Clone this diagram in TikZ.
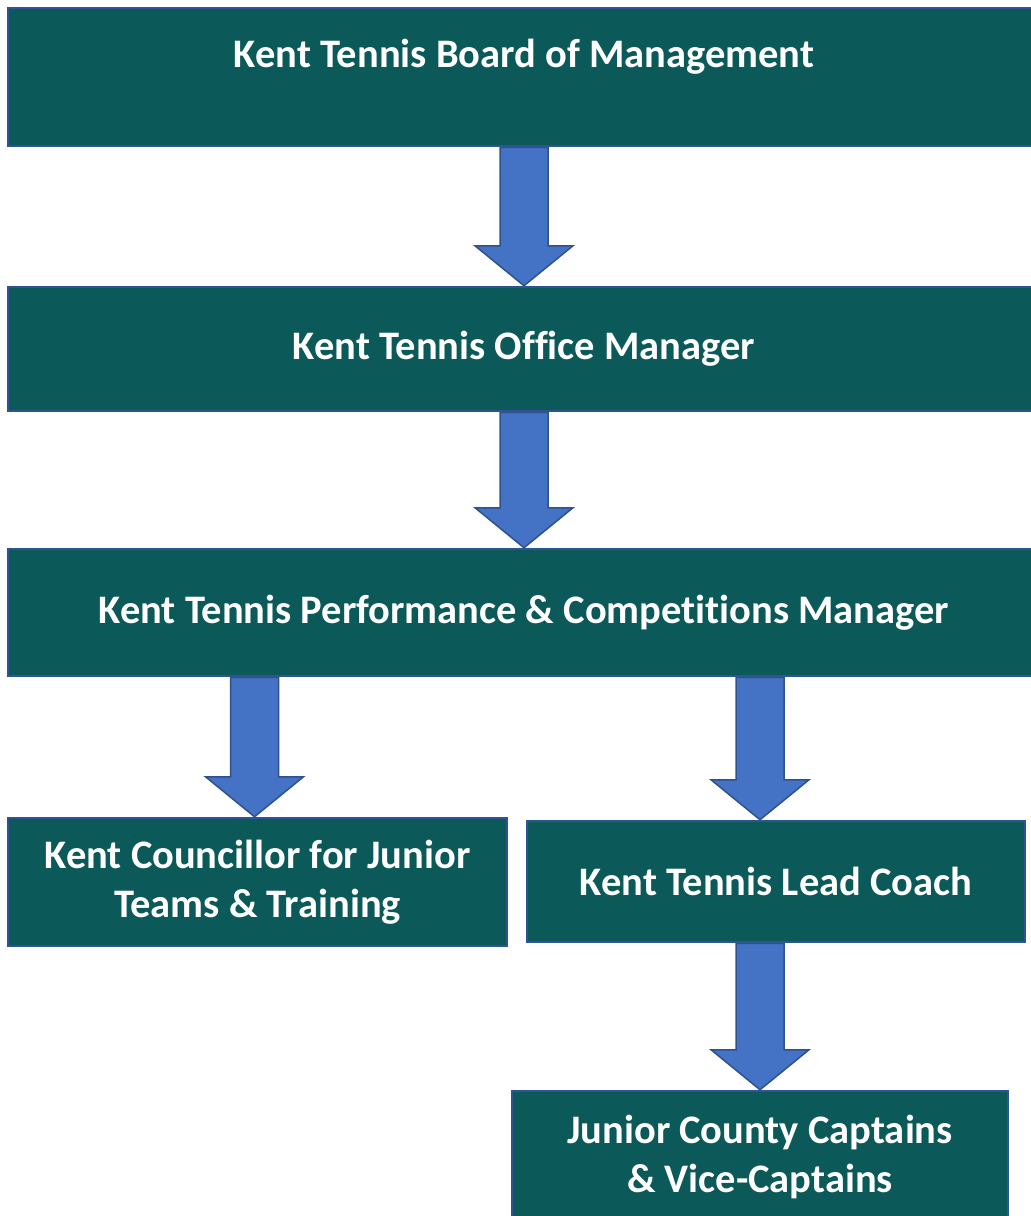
\documentclass[tikz,border=0pt]{standalone}
\usepackage{fontspec}
\setmainfont{Carlito}[Ligatures=NoCommon]
\usetikzlibrary{calc}

\definecolor{boxteal}{RGB}{11,89,88}
\definecolor{boxedge}{RGB}{47,84,150}
\definecolor{arrowblue}{RGB}{68,114,196}
\definecolor{arrowedge}{RGB}{47,82,143}

\tikzset{
    box/.style={rectangle,draw=boxedge,line width=2.5pt,fill=boxteal,text=white,
        font=\fontsize{40.5}{49}\selectfont\bfseries,align=center,inner sep=0pt},
    arr/.style={draw=arrowedge,line width=1.5pt,fill=arrowblue,line join=miter},
}

% block arrow: shaft from #1 down to the tip at #2
\newcommand{\blockarr}[2]{%
    \draw[arr] let \p1=(#1), \p2=(#2) in
        (\x2-24pt,\y1) -- (\x2+24pt,\y1) -- (\x2+24pt,\y2+40pt) -- (\x2+49pt,\y2+40pt)
        -- (\x2,\y2) -- (\x2-49pt,\y2+40pt) -- (\x2-24pt,\y2+40pt) -- cycle;}

\begin{document}
\begin{tikzpicture}[x=1pt,y=-1pt]
    \useasboundingbox (0,0) rectangle (1031,1216);
    \clip (0,0) rectangle (1031,1216);
    \fill[white] (0,0) rectangle (1031,1216);

    \node[box,minimum width=1032pt,text height=59pt,text depth=79pt] at (524,77) (board) {Kent Tennis Board of Management};
    \node[box,minimum width=1032pt,minimum height=124pt] at (524,349) (office) {Kent Tennis Office Manager};
    \node[box,minimum width=1032pt,minimum height=127pt] at (524,612.5) (perf) {Kent Tennis Performance \& Competitions Manager};
    \node[box,minimum width=499pt,minimum height=128pt] at (257.5,882) (councillor) {Kent Councillor for Junior\\Teams \& Training};
    \node[box,minimum width=498pt,minimum height=121pt] at (776,881.5) (coach) {Kent Tennis Lead Coach};
    \node[box,minimum width=496pt,minimum height=132pt] at (760,1157) (captains) {Junior County Captains\\\& Vice-Captains};

    \blockarr{board.south}{office.north}
    \blockarr{office.south}{perf.north}
    \blockarr{perf.south}{$(councillor.north)+(-3,0)$}
    \blockarr{perf.south}{coach.north -| captains.north}
    \blockarr{coach.south}{captains.north}
\end{tikzpicture}
\end{document}
